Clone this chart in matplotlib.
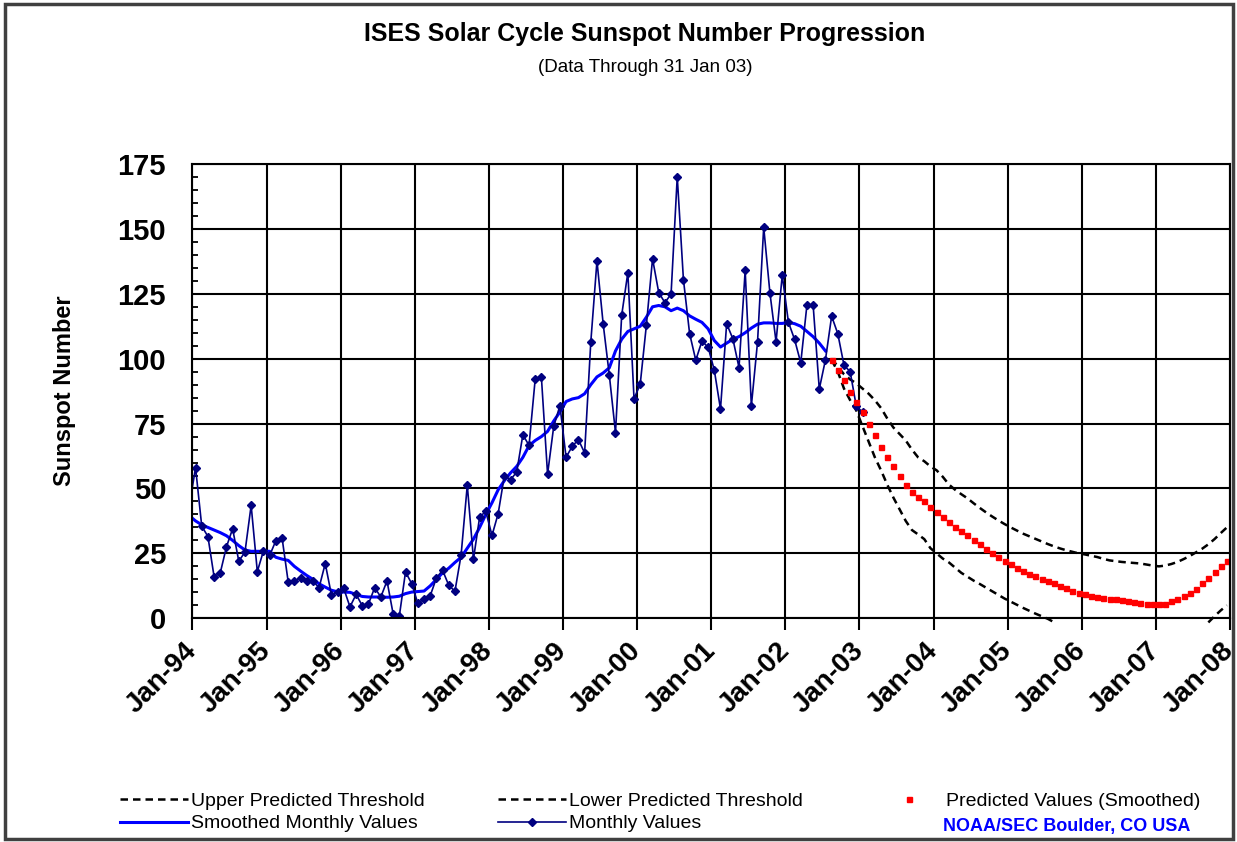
import numpy as np
import matplotlib.pyplot as plt
from matplotlib.patches import Rectangle
from matplotlib.transforms import ScaledTranslation

plt.rcParams['font.family'] = ['Liberation Sans', 'DejaVu Sans']

# months counted from Jan 1994 (index 0); first monthly value is Dec 1993
monthly_start = -1
monthly = [43.5,
           58.0, 35.5, 31.5, 16.0, 17.5, 27.5, 34.5, 22.0, 25.5, 43.5, 18.0, 26.0,
           24.2, 29.9, 31.1, 14.0, 14.5, 15.6, 14.5, 14.3, 11.8, 21.1, 9.0, 10.0,
           11.5, 4.4, 9.2, 4.8, 5.5, 11.8, 8.2, 14.4, 1.6, 0.9, 17.9, 13.3,
           5.7, 7.6, 8.7, 15.5, 18.5, 12.7, 10.4, 24.4, 51.3, 22.8, 39.0, 41.2,
           31.9, 40.3, 54.8, 53.4, 56.3, 70.7, 66.6, 92.2, 92.9, 55.5, 74.0, 81.9,
           62.0, 66.3, 68.8, 63.7, 106.4, 137.7, 113.5, 93.7, 71.5, 116.7, 133.2, 84.6,
           90.1, 112.9, 138.5, 125.5, 121.6, 124.9, 170.1, 130.5, 109.7, 99.4, 106.8, 104.4,
           95.6, 80.6, 113.5, 107.7, 96.6, 134.0, 81.8, 106.4, 150.7, 125.5, 106.5, 132.2,
           114.1, 107.4, 98.4, 120.7, 120.8, 88.3, 99.6, 116.4, 109.6, 97.5, 95.0, 81.6,
           79.5]

smoothed_start = -1
smoothed = [39.5,
            37.5, 36.0, 35.0, 34.0, 33.0, 31.8, 30.0, 28.0, 26.3, 25.8, 25.8, 25.8,
            25.8, 23.5, 22.8, 22.3, 20.0, 18.2, 16.5, 15.0, 13.3, 12.0, 10.8, 10.2,
            10.1, 10.0, 9.2, 8.4, 8.2, 8.2, 8.2, 8.1, 8.2, 8.5, 9.5, 10.1,
            10.3, 10.5, 12.5, 15.0, 17.5, 19.3, 21.5, 23.5, 27.0, 30.5, 35.0, 40.0,
            44.5, 49.5, 53.0, 56.0, 58.5, 62.0, 66.5, 68.5, 70.0, 72.0, 76.0, 79.5,
            83.5, 84.5, 85.0, 86.5, 90.0, 93.0, 94.5, 96.5, 103.0, 107.5, 110.5, 111.5,
            112.5, 116.0, 120.0, 120.5, 120.0, 118.5, 119.5, 118.5, 116.5, 115.2, 114.0, 111.5,
            107.0, 104.5, 106.0, 107.5, 108.5, 110.0, 111.8, 113.3, 113.8, 113.8, 113.6, 113.6,
            114.0, 113.5, 112.5, 110.5, 108.5, 106.0, 103.0]

# predictions start Aug 2002 (index 103)
pred_start = 103
predicted = [99.5, 95.5, 91.8, 87.0, 83.2,
             79.3, 75.0, 70.5, 66.0, 62.0, 58.5, 55.0, 51.5, 48.8, 46.8, 45.2, 43.0,
             40.8, 39.2, 37.0, 35.3, 33.5, 32.0, 30.2, 28.5, 26.6, 25.2, 23.8, 22.2,
             20.8, 19.5, 18.2, 17.0, 16.2, 15.3, 14.4, 13.4, 12.5, 11.6, 10.7, 9.9,
             9.2, 8.6, 8.2, 7.9, 7.6, 7.3, 7.0, 6.7, 6.3, 5.9, 5.6, 5.4,
             5.4, 5.6, 6.5, 7.4, 8.4, 9.6, 11.3, 13.4, 15.6, 18.0, 20.2, 22.0]
upper = [100.0, 97.0, 94.0, 92.0, 90.5,
         88.5, 86.5, 84.0, 81.0, 77.0, 73.5, 71.0, 68.5, 65.0, 62.0, 60.5, 58.5,
         57.0, 54.5, 51.5, 49.5, 47.8, 46.2, 44.3, 42.5, 40.8, 39.2, 37.7, 36.3,
         35.0, 33.8, 32.6, 31.6, 30.6, 29.6, 28.6, 27.7, 26.9, 26.2, 25.6, 25.0,
         24.6, 24.1, 23.6, 22.9, 22.3, 22.0, 21.7, 21.5, 21.3, 21.1, 20.7, 20.3,
         20.0, 20.3, 20.9, 21.7, 22.8, 24.0, 25.4, 26.8, 28.5, 30.5, 32.8, 35.0]
nan = np.nan
lower = [99.5, 95.0, 88.5, 84.0, 80.0,
         74.0, 68.0, 62.0, 57.0, 51.5, 46.5, 42.0, 37.5, 34.0, 32.3, 30.5, 27.0,
         25.0, 23.0, 21.5, 19.5, 17.5, 16.0, 14.5, 13.2, 11.8, 10.4, 9.0, 7.6,
         6.4, 5.2, 4.0, 2.9, 1.8, 0.8, -0.2, -1.5, nan, nan, nan, nan,
         nan, nan, nan, nan, nan, nan, nan, nan, nan, nan, nan, nan,
         nan, nan, nan, nan, nan, nan, nan, nan, -1.6, 0.8, 3.0, 5.0]

tick_labels = ['Jan-94', 'Jan-95', 'Jan-96', 'Jan-97', 'Jan-98', 'Jan-99', 'Jan-00',
               'Jan-01', 'Jan-02', 'Jan-03', 'Jan-04', 'Jan-05', 'Jan-06', 'Jan-07', 'Jan-08']

# points sit in the middle of their month
x_monthly = np.arange(len(monthly)) + monthly_start + 0.5
x_smoothed = np.arange(len(smoothed)) + smoothed_start + 0.5
x_pred = np.arange(len(predicted)) + pred_start + 0.5

fig = plt.figure(figsize=(12.37, 8.42), dpi=100)
ax = fig.add_axes([0.1556, 0.2657, 0.8387, 0.5395])

l_up, = ax.plot(x_pred, upper, color='black', lw=1.8, ls=(0, (3, 2)), label='Upper Predicted Threshold')
l_lo, = ax.plot(x_pred, lower, color='black', lw=1.8, ls=(0, (3, 2)), clip_on=False,
                label='Lower Predicted Threshold')
l_sm, = ax.plot(x_smoothed, smoothed, color='#0000ff', lw=2.2, label='Smoothed Monthly Values')
l_mo, = ax.plot(x_monthly, monthly, color='#000080', lw=1.2, marker='D', ms=3.6,
                markevery=slice(1, None), label='Monthly Values')
l_pr, = ax.plot(x_pred, predicted, ls='none', marker='s', ms=3.6, color='#ff0000',
                mec='#ff0000', label='Predicted Values (Smoothed)')

ax.set_xlim(0, 168)
ax.set_ylim(0, 175)
ax.set_xticks(np.arange(0, 169, 12))
ax.set_yticks(np.arange(0, 176, 25))
ax.set_yticklabels([str(v) for v in range(0, 176, 25)], fontsize=21, fontweight='bold')
ax.set_yticks(np.arange(0, 176, 5), minor=True)
ax.tick_params(axis='x', direction='out', length=8.5, width=1.5, pad=4)
ax.tick_params(axis='y', which='major', length=0, pad=19)
ax.tick_params(axis='y', which='minor', direction='in', length=4.5, width=1.3)
ax.set_xticklabels(tick_labels, rotation=45, ha='right', va='top', rotation_mode='anchor',
                   fontsize=20, fontweight='bold')
# nudge the slanted date labels a little left and down
shift = ScaledTranslation(-9 / 100, -2 / 100, fig.dpi_scale_trans)
for lab in ax.get_xticklabels():
    lab.set_transform(lab.get_transform() + shift)
ax.grid(True, color='black', lw=1.5)
for s in ax.spines.values():
    s.set_linewidth(1.5)
ax.set_ylabel('Sunspot Number', fontsize=17, fontweight='bold', labelpad=30)

fig.text(0.5215, 0.960, 'ISES Solar Cycle Sunspot Number Progression', ha='center', va='center',
         fontsize=18, fontweight='bold')
fig.text(0.5215, 0.920, '(Data Through 31 Jan 03)', ha='center', va='center', fontsize=13.5)

fig.legend(handles=[l_up, l_sm, l_lo, l_mo, l_pr], ncol=3, loc='upper left',
           bbox_to_anchor=(0.097, 0.059), frameon=False, fontsize=14, handlelength=3.5,
           handletextpad=0.15, columnspacing=3.75, labelspacing=0.25, borderpad=0,
           borderaxespad=0, numpoints=1)
fig.text(0.762, 0.019, 'NOAA/SEC Boulder, CO USA', color='#0000ff', fontsize=13,
         fontweight='bold', va='center')

fig.patches.append(Rectangle((0.004, 0.003), 0.993, 0.992, transform=fig.transFigure,
                             fill=False, edgecolor='#404040', lw=2.5))

fig.savefig('out.png', dpi=100)
